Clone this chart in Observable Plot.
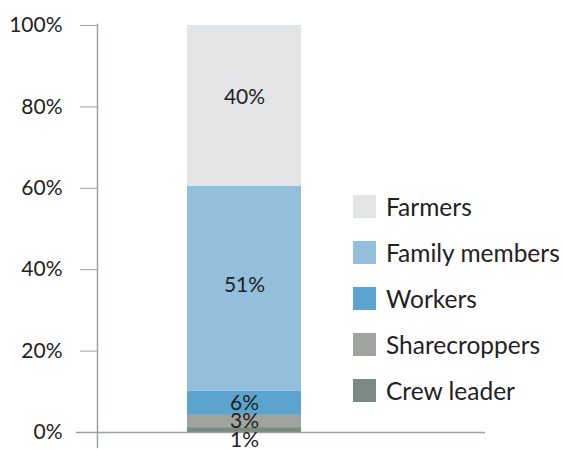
<!DOCTYPE html>
<html>
<head>
<meta charset="utf-8">
<script src="https://cdn.jsdelivr.net/npm/d3@7"></script>
<script src="https://cdn.jsdelivr.net/npm/@observablehq/plot@0.6"></script>
<style>
  html, body { margin: 0; padding: 0; background: #fff; }
  #wrap { position: relative; width: 563px; height: 450px; font-family: Lato, "Open Sans", sans-serif; }
  #legend { position: absolute; left: 353px; top: 195px; }
  .item { display: flex; align-items: center; height: 23px; margin-bottom: 23px; font-size: 24.5px; color: #222; white-space: nowrap; }
  .sw { width: 23px; height: 23px; margin-right: 10px; flex: none; }
</style>
</head>
<body>
<div id="wrap"><div id="legend"></div></div>
<script>
const categories = ["Crew leader", "Sharecroppers", "Workers", "Family members", "Farmers"];
const values = [1.2, 3.0, 6.0, 50.3, 39.5];
const labels = ["1%", "3%", "6%", "51%", "40%"];
const colors = ["#7b8a82", "#a0a49f", "#5ba4d0", "#93bfdd", "#e4e5e7"];
const yTicks = [0, 20, 40, 60, 80, 100];
const legendOrder = ["Farmers", "Family members", "Workers", "Sharecroppers", "Crew leader"];

const data = categories.map((c, i) => ({group: "All", category: c, value: values[i], label: labels[i]}));
const axisColor = "#9aa3a0";

const stackOpts = {x: "group", y: "value", order: null};
const textMark = (names, dy) => Plot.text(data, Plot.stackY({
  ...stackOpts, text: d => names.includes(d.category) ? d.label : null, dy,
  fontSize: 21, fill: "#222", fontFamily: "Lato"
}));

const chart = Plot.plot({
  width: 563,
  height: 450,
  marginTop: 25,
  marginBottom: 18,
  marginLeft: 97,
  marginRight: 172,
  style: {fontFamily: "Lato, sans-serif", fontSize: "21px", color: "#222", overflow: "visible"},
  x: {domain: ["All"], padding: 0.441, axis: null},
  y: {domain: [0, 100], ticks: yTicks, tickFormat: d => d + "%", label: null},
  color: {domain: categories, range: colors},
  marks: [
    Plot.barY(data, Plot.stackY({...stackOpts, fill: "category"})),
    Plot.axisY({ticks: yTicks, tickFormat: d => d + "%", tickSize: 17, tickPadding: 18, stroke: axisColor, label: null, fontSize: 21, fill: "#222"}),
    Plot.frame({anchor: "left", stroke: axisColor, strokeWidth: 1.5, insetTop: -1, insetBottom: -15}),
    Plot.ruleY([0], {stroke: axisColor, strokeWidth: 1.5, insetLeft: -21, insetRight: -94}),
    textMark(["Farmers"], -9),
    textMark(["Family members"], -3),
    textMark(["Workers", "Sharecroppers"], 0),
    textMark(["Crew leader"], 10)
  ]
});
document.getElementById("wrap").prepend(chart);

const legend = document.getElementById("legend");
for (const name of legendOrder) {
  const i = categories.indexOf(name);
  const item = document.createElement("div");
  item.className = "item";
  item.innerHTML = `<div class="sw" style="background:${colors[i]}"></div><span>${name}</span>`;
  legend.appendChild(item);
}
</script>
</body>
</html>
